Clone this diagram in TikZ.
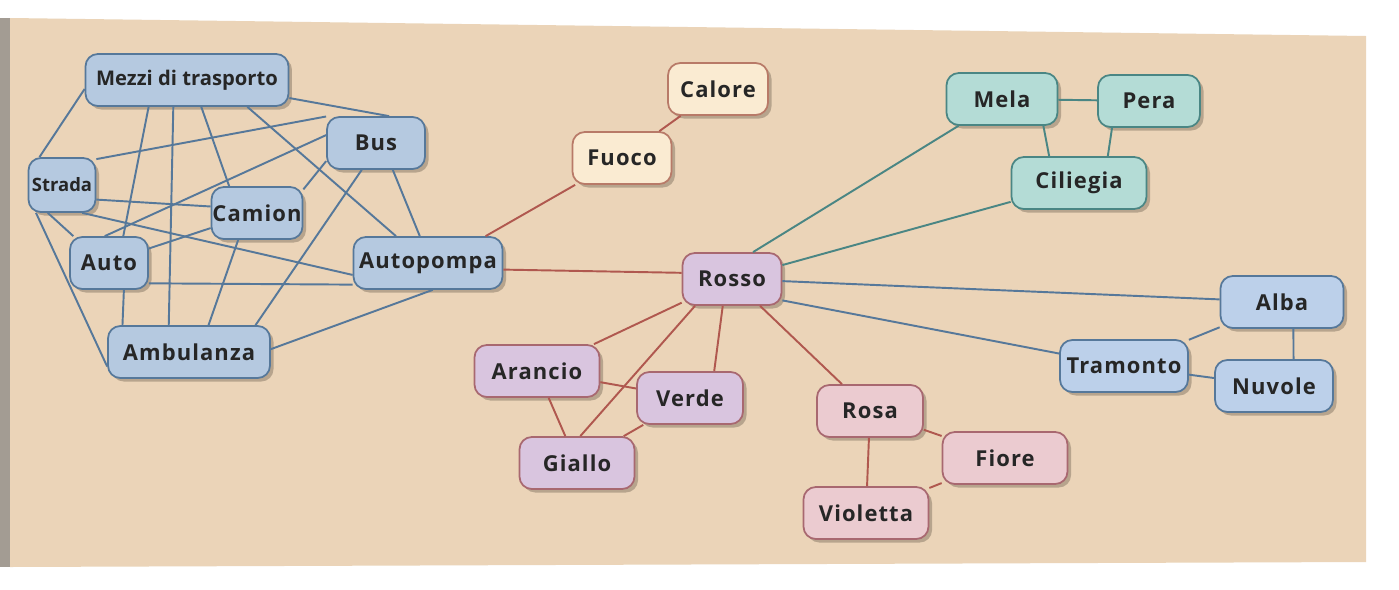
\documentclass[tikz,border=0pt]{standalone}
\usepackage{fontspec}
\setmainfont{Open Sans}
\newfontfamily\mapfont[LetterSpace=5]{Open Sans}
\newfontfamily\tightfont{Open Sans}
\usetikzlibrary{shadows}
\definecolor{paper}{HTML}{EBD4B8}
\definecolor{spine}{HTML}{A39C93}
\definecolor{ink}{HTML}{262626}
\definecolor{shade}{HTML}{8E7E6A}
\definecolor{tfill}{HTML}{B5C9E0}
\definecolor{tdraw}{HTML}{56789A}
\definecolor{ffill}{HTML}{FAEBD2}
\definecolor{fdraw}{HTML}{B87A68}
\definecolor{rfill}{HTML}{D9C5DF}
\definecolor{rdraw}{HTML}{A86870}
\definecolor{pfill}{HTML}{EBCBD0}
\definecolor{gfill}{HTML}{B4DCD6}
\definecolor{gdraw}{HTML}{4A8684}
\definecolor{sfill}{HTML}{BCD0EA}
\definecolor{redline}{HTML}{B0584F}

\begin{document}
\begin{tikzpicture}[
    x=0.02cm, y=-0.02cm,
    concept/.style={draw, line width=1pt, rounded corners=7pt, minimum height=1.04cm,
                    inner sep=0pt, text=ink, font=\mapfont\bfseries\fontsize{12.5}{14}\selectfont,
                    drop shadow={shadow xshift=2pt, shadow yshift=-2pt, fill=shade, opacity=0.55}},
    tbox/.style={concept, fill=tfill, draw=tdraw},
    fbox/.style={concept, fill=ffill, draw=fdraw},
    rbox/.style={concept, fill=rfill, draw=rdraw},
    pbox/.style={concept, fill=pfill, draw=rdraw},
    gbox/.style={concept, fill=gfill, draw=gdraw},
    sbox/.style={concept, fill=sfill, draw=tdraw},
    tlink/.style={line width=1.1pt, tdraw},
    rlink/.style={line width=1.1pt, redline},
    glink/.style={line width=1.1pt, gdraw},
]
% page
\fill[white] (0,0) rectangle (1399,589);
\fill[spine] (0,18) rectangle (10,567);
\fill[paper] (10,18) -- (1366,36) -- (1366,562) -- (10,567) -- cycle;
\useasboundingbox (0,0) rectangle (1399,589);

% mezzi di trasporto
\node[tbox, minimum width=4.06cm, font=\tightfont\bfseries\fontsize{11.5}{13}\selectfont] (mezzi) at (187,80) {Mezzi di trasporto};
\node[tbox, minimum width=1.96cm] (bus) at (376,143) {Bus};
\node[tbox, minimum width=1.34cm, minimum height=1.08cm, font=\tightfont\bfseries\fontsize{10.5}{12}\selectfont] (strada) at (62,185) {Strada};
\node[tbox, minimum width=1.82cm] (camion) at (257,213) {Camion};
\node[tbox, minimum width=1.56cm] (auto) at (109,263) {Auto};
\node[tbox, minimum width=2.98cm] (autopompa) at (428,263) {Autopompa};
\node[tbox, minimum width=3.24cm] (ambulanza) at (189,352) {Ambulanza};

% fuoco
\node[fbox, minimum width=1.98cm] (fuoco) at (622,158) {Fuoco};
\node[fbox, minimum width=2.0cm] (calore) at (718,89) {Calore};

% colori
\node[rbox, minimum width=1.98cm] (rosso) at (732,279) {Rosso};
\node[rbox, minimum width=2.5cm] (arancio) at (537,371) {Arancio};
\node[rbox, minimum width=2.12cm] (verde) at (690,398) {Verde};
\node[rbox, minimum width=2.3cm] (giallo) at (577,463) {Giallo};
\node[pbox, minimum width=2.12cm] (rosa) at (870,411) {Rosa};
\node[pbox, minimum width=2.5cm] (fiore) at (1005,458) {Fiore};
\node[pbox, minimum width=2.5cm] (violetta) at (866,513) {Violetta};

% frutta
\node[gbox, minimum width=2.22cm] (mela) at (1002,99) {Mela};
\node[gbox, minimum width=2.04cm] (pera) at (1149,101) {Pera};
\node[gbox, minimum width=2.7cm] (ciliegia) at (1079,183) {Ciliegia};

% cielo
\node[sbox, minimum width=2.46cm] (alba) at (1282,302) {Alba};
\node[sbox, minimum width=2.56cm] (tramonto) at (1124,366) {Tramonto};
\node[sbox, minimum width=2.36cm] (nuvole) at (1274,386) {Nuvole};

% transport links
\draw[tlink] (mezzi.185) -- (strada.129);
\draw[tlink] (mezzi.215) -- (auto.62);
\draw[tlink] (mezzi.243) -- (ambulanza.127);
\draw[tlink] (mezzi.298) -- (camion.136);
\draw[tlink] (mezzi.336) -- (autopompa.140);
\draw[tlink] (mezzi.350) -- (bus.64);
\draw[tlink] (strada.37) -- (bus.152);
\draw[tlink] (strada.337) -- (camion.172);
\draw[tlink] (strada.243) -- (auto.143);
\draw[tlink] (strada.306) -- (autopompa.189);
\draw[tlink] (strada.227) -- (ambulanza.190);
\draw[tlink] (auto.99) -- (bus.171);
\draw[tlink] (auto.20) -- (camion.198);
\draw[tlink] (auto.333) -- (autopompa.196);
\draw[tlink] (auto.299) -- (ambulanza.158);
\draw[tlink] (camion.27) -- (bus.200);
\draw[tlink] (camion.235) -- (ambulanza.54);
\draw[tlink] (bus.242) -- (ambulanza.22);
\draw[tlink] (bus.302) -- (autopompa.107);
\draw[tlink] (ambulanza.2) -- (autopompa.280);

% red links
\draw[rlink] (autopompa.25) -- (fuoco);
\draw[rlink] (fuoco) -- (calore);
\draw[rlink] (autopompa.355) -- (rosso.173);
\draw[rlink] (rosso) -- (arancio);
\draw[rlink] (rosso.216) -- (giallo.83);
\draw[rlink] (rosso.251) -- (verde.48);
\draw[rlink] (rosso) -- (rosa);
\draw[rlink] (arancio) -- (verde);
\draw[rlink] (arancio) -- (giallo);
\draw[rlink] (verde) -- (giallo);
\draw[rlink] (rosa) -- (fiore);
\draw[rlink] (rosa) -- (violetta);
\draw[rlink] (fiore) -- (violetta);

% fruit and sky links
\draw[glink] (rosso.52) -- (mela);
\draw[glink] (rosso) -- (ciliegia);
\draw[glink] (mela) -- (pera);
\draw[glink] (mela.327) -- (ciliegia.138);
\draw[glink] (pera.216) -- (ciliegia.43);
\draw[tlink] (rosso) -- (alba);
\draw[tlink] (rosso.337) -- (tramonto);
\draw[tlink] (alba) -- (tramonto);
\draw[tlink] (alba.293) -- (nuvole.54);
\draw[tlink] (tramonto) -- (nuvole);
\end{tikzpicture}
\end{document}
